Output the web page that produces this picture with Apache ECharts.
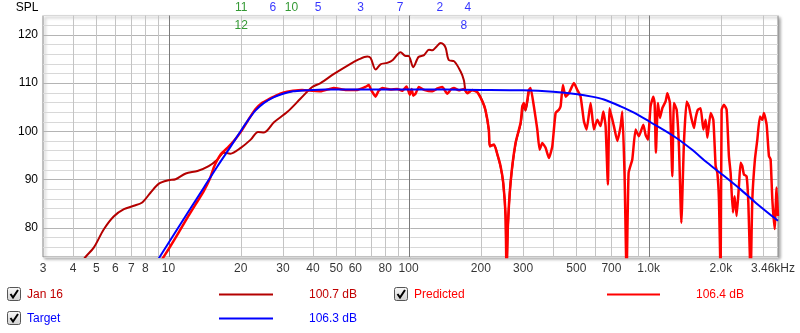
<!DOCTYPE html>
<html><head><meta charset="utf-8">
<script src="https://cdn.jsdelivr.net/npm/echarts@6/dist/echarts.min.js"></script>
<style>html,body{margin:0;padding:0;background:#fff}#c{width:800px;height:333px}</style>
</head><body><div id="c"></div>
<script>
// ---- data (frequency Hz, SPL dB) ----
const jan16 = [[4.3,72.6],[4.51,74.0],[4.89,76.0],[5.37,79.7],[5.91,82.4],[6.52,83.9],[7.17,84.6],[7.77,85.3],[8.41,87.3],[9.12,89.2],[10,89.9],[10.7,90.1],[11.8,91.3],[13.2,91.8],[14.7,92.8],[16.0,94.2],[17.0,95.6],[18.1,95.4],[20,96.6],[22,98.3],[23.6,99.9],[25,99.8],[27.5,101.9],[31.2,104.0],[35.5,106.8],[39.7,109.2],[43,110.0],[48.9,111.9],[57.3,114.0],[62,114.9],[67.3,115.5],[69.5,115.2],[72.9,112.8],[76.4,113.9],[81.5,114.2],[86,114.8],[92.6,116.4],[97.2,115.6],[100,115.6],[104.6,113.3],[110,115.4],[116,115.8],[121.6,116.9],[125.6,116.8],[131,117.6],[136,118.3],[140,118.0],[143,117.2],[147,114.8],[155,114.5],[164.8,112.4],[170,110.6],[172.7,108.4],[176,108.0],[184,108.5],[193,108.2],[203,106.3],[209,104.4],[216,100.2],[218,97.0],[227,97.2],[234.6,95.1],[241.8,92.6],[248,89.2],[253.6,82.3],[256,70],[259,79.6],[266,89.2],[279,97.4],[293,101.6],[302,105.6],[307,104.3],[317,108.4]];

const predicted = [[9.2,72.8],[10,75.6],[11,79.0],[12,82.2],[13,85.0],[14,87.6],[14.9,90.3],[15.45,92.6],[16.46,95.2],[17.6,96.6],[18.7,98.0],[20,99.9],[21.5,102.4],[23,104.6],[24.5,105.9],[26,106.6],[28,107.4],[30,108.0],[33,108.4],[36,108.6],[40,108.4],[43,108.3],[48.8,109.0],[55,108.6],[61.1,108.6],[66,109.2],[68.3,109.6],[70,108.5],[72.9,107.2],[75,108.4],[77.7,109.0],[84,108.7],[89.7,108.8],[94,108.4],[98.1,109.3],[101.3,107.6],[103,108.8],[104.6,107.4],[106.9,107.8],[110.4,109.2],[116,108.6],[125.6,108.3],[132,108.9],[138.2,109.2],[145,107.8],[150,108.7],[154.5,109.0],[162,108.5],[170,108.8],[175.6,107.9],[184.2,108.6],[193.3,108.1],[203,106.2],[209,104.5],[216,100.4],[218,96.9],[227,97.3],[234.6,95.2],[241.8,92.8],[248,89.4],[253.6,82.5],[256,70],[259,79.8],[266,89.4],[279,97.6],[293,101.8],[297.7,105.2],[302.2,105.9],[307.2,104.5],[317.1,108.6],[322.3,109.0],[332.7,105.2],[343.8,100.4],[351.4,96.2],[360.7,97.6],[372.3,96.6],[384.3,94.5],[397,96.9],[409.8,103.8],[423,104.5],[429.9,105.2],[439.5,109.6],[451.1,107.2],[465.6,107.9],[488.5,110.0],[504.6,108.6],[520.9,107.2],[537.7,102.1],[551.8,100.4],[573.3,105.9],[591.8,100.4],[611.4,102.4],[631,101.1],[647.6,104.1],[662,101.1],[676.8,89.0],[688,104.8],[716.9,101.1],[740.7,98.0],[764.5,101.1],[777.2,104.1],[794.3,90.7],[809.7,70],[825.4,91.4],[855.2,94.2],[882.6,100.4],[911.1,99.0],[950.6,101.4],[971.6,99.3],[993.4,98.3],[1019.4,105.2],[1046,107.2],[1059.3,105.9],[1072.5,95.6],[1093.4,105.9],[1114.6,102.8],[1140.5,104.8],[1177,106.2],[1196.8,107.9],[1227,105.9],[1255.6,90.7],[1274.9,105.9],[1308.6,104.5],[1337.8,96.9],[1369,81.1],[1403.5,97.6],[1440.2,106.2],[1472.4,105.2],[1506.7,102.8],[1544.9,100.7],[1570,102.8],[1605.1,104.5],[1647.4,104.8],[1690.6,100.4],[1728.4,102.4],[1756.9,98.7],[1813.2,103.8],[1860.9,102.4],[1902.5,92.8],[1933.8,91.4],[1963.5,85.9],[1995.3,70],[2014.6,104.5],[2059.6,105.5],[2113.5,104.5],[2160.7,94.9],[2196.3,91.4],[2245.4,83.2],[2282,86.6],[2326.4,82.5],[2378.4,88.7],[2417.1,93.5],[2457,92.8],[2495.1,91.1],[2560.3,90.7],[2602.5,85.3],[2660.7,70],[2704.5,85.9],[2773,94.2],[2837.6,98.3],[2909.7,103.1],[2977.4,102.4],[3023,103.8],[3102.5,101.4],[3171.8,94.9],[3223.3,94.2],[3276.7,85.9],[3349.7,79.8],[3414.5,88.4],[3458,82.5]];

const target = [[9,73.3],[10,76.9],[12,83.1],[14,88.3],[16,92.8],[18,96.6],[20,100.1],[21.5,102.4],[23,104.3],[25,105.9],[27.5,107.1],[30,107.8],[33,108.3],[37,108.5],[45,108.7],[100,108.7],[200,108.6],[300,108.5],[400,108.2],[505,107.7],[580,107.2],[651,106.6],[764,105.2],[869,103.9],[1019,101.9],[1274,99.0],[1500,96.4],[1757,93.5],[2000,91.3],[2415,88.0],[2800,85.2],[3460,81.5]];

const xTickFreqs  = [3,4,5,6,7,8,10,20,30,40,50,60,80,100,200,300,500,700,1000,2000,3460];
const xTickLabels = ['3','4','5','6','7','8','10','20','30','40','50','60','80','100','200','300','500','700','1.0k','2.0k','3.46kHz'];
const gridFreqs   = [4,5,6,7,8,9,10,20,30,40,50,60,70,80,90,100,200,300,400,500,600,700,800,900,1000,2000,3000];
const decadeFreqs = [10,100,1000];
const yMin = 74, yMax = 124, yStep = 2, yLabelStep = 10;

const filterNums   = ['11','6','10','5','3','7','2','4','12','8'];
const filterFreqs  = [20.1,27.2,32.5,42,63.1,92.2,135,176.6,20.1,170];
const filterGreen  = [true,false,true,false,false,false,false,false,true,false];
const filterRow    = [1,1,1,1,1,1,1,1,2,2];

const legendNames  = ['Jan 16','Predicted','Target'];
const legendValues = ['100.7 dB','106.4 dB','106.3 dB'];

// ---- styles ----
const FONT = 'Liberation Sans, Arial, sans-serif';
const cJan = '#b40000', cJanText = '#c00000', cPred = '#ff0000', cTarget = '#0000ff', cGreen = '#008000';

const chart = echarts.init(document.getElementById('c'), null, {renderer:'canvas'});

const splitColors = [];
for (let v = yMin; v < yMin + yLabelStep; v += yStep) splitColors.push(v % yLabelStep === 0 ? '#b4b4b4' : '#d8d8d8');

// legend graphics
const legendLayout = [
  {box:[7.5,287.5], text:[27,294.5], line:[219,273,294.5], val:[357,294.5], col:cJan, tcol:cJanText},
  {box:[394.5,287.5], text:[414,294.5], line:[607,660,294.5], val:[744,294.5], col:cPred, tcol:cPred},
  {box:[7.5,311.5], text:[27,318.5], line:[219,273,318.5], val:[357,318.5], col:cTarget, tcol:cTarget}
];
const graphics = [{type:'text', x:38.5, y:8, style:{text:'SPL', font:'12px '+FONT, fill:'#000', align:'right', verticalAlign:'middle'}}];
legendLayout.forEach((L,i)=>{
  graphics.push({type:'rect', shape:{x:L.box[0], y:L.box[1], width:13, height:13, r:2},
    style:{fill:new echarts.graphic.LinearGradient(0,0,0,1,[{offset:0,color:'#fafafa'},{offset:1,color:'#d0d0d0'}]), stroke:'#555', lineWidth:1}});
  graphics.push({type:'polyline', shape:{points:[[L.box[0]+3,L.box[1]+6.5],[L.box[0]+5.5,L.box[1]+10],[L.box[0]+10.5,L.box[1]+2.5]]},
    style:{stroke:'#000', lineWidth:2, fill:null}});
  graphics.push({type:'text', x:L.text[0], y:L.text[1], style:{text:legendNames[i], font:'12px '+FONT, fill:L.tcol, verticalAlign:'middle'}});
  graphics.push({type:'line', shape:{x1:L.line[0], y1:L.line[2], x2:L.line[1], y2:L.line[2]}, style:{stroke:L.col, lineWidth:2}});
  graphics.push({type:'text', x:L.val[0], y:L.val[1], style:{text:legendValues[i], font:'12px '+FONT, fill:L.tcol, align:'right', verticalAlign:'middle'}});
});

const option = {
  animation: false,
  textStyle: {fontFamily: FONT},
  grid: {left:43, right:22, top:15.5, bottom:76, show:true, backgroundColor:'#fff',
         borderColor:'#8a8a8a', borderWidth:1, shadowColor:'rgba(0,0,0,0.35)', shadowBlur:3, shadowOffsetX:2, shadowOffsetY:2},
  xAxis: {type:'log', logBase:10, min:3, max:3460, axisLabel:{show:false}, axisTick:{show:false}, axisLine:{show:false}, splitLine:{show:false}, minorTick:{show:false}},
  yAxis: {type:'value', min:yMin, max:yMax, interval:yStep,
    axisLabel:{fontSize:12, color:'#000', margin:5, fontFamily:FONT, formatter:v => (v % yLabelStep === 0 && v > yMin) ? String(v) : ''},
    axisTick:{show:false}, axisLine:{show:false},
    splitLine:{show:true, lineStyle:{color:splitColors, width:1}}},
  graphic: graphics,
  series: [
    {type:'custom', z:1, silent:true, clip:false,
     data: gridFreqs.map(f => [f, yMin, decadeFreqs.includes(f) ? 1 : 0]),
     encode:{x:0, y:1},
     renderItem(params, api){
       const f = api.value(0);
       const p0 = api.coord([f, yMin]), p1 = api.coord([f, yMax]);
       const x = Math.round(p0[0]) + 0.5;
       return {type:'line', shape:{x1:x, y1:p0[1], x2:x, y2:p1[1]},
               style:{stroke: api.value(2) ? '#7a7a7a' : '#c4c4c4', lineWidth:1}};
     }},
    {type:'scatter', silent:true, clip:false, z:6, symbol:'circle', symbolSize:1,
     itemStyle:{color:'rgba(0,0,0,0)'},
     data: xTickFreqs.map((f,i)=>({value:[f, yMin],
       label:{show:true, formatter:xTickLabels[i], position:'inside', offset:[i === xTickFreqs.length-1 ? -5 : 0, 11.5],
              color:'#000', fontSize:12, fontFamily:FONT}}))},
    {type:'scatter', silent:true, clip:false, z:6, symbol:'circle', symbolSize:1,
     itemStyle:{color:'rgba(0,0,0,0)'},
     data: filterFreqs.map((f,i)=>({value:[f, yMax],
       label:{show:true, formatter:filterNums[i], position:'inside', offset:[0, filterRow[i] === 1 ? -7.5 : 10.5],
              color: filterGreen[i] ? cGreen : cTarget, fontSize:12, fontFamily:FONT}}))},
    {name:'Jan 16', type:'line', z:3, data:jan16, showSymbol:false, smooth:0.3, silent:true,
     lineStyle:{color:cJan, width:2, join:'round'}, itemStyle:{color:cJan}},
    {name:'Predicted', type:'line', z:4, data:predicted, showSymbol:false, smooth:0.15, silent:true,
     lineStyle:{color:cPred, width:2.5, join:'round'}, itemStyle:{color:cPred}},
    {name:'Target', type:'line', z:5, data:target, showSymbol:false, smooth:0.3, silent:true,
     lineStyle:{color:cTarget, width:2, join:'round'}, itemStyle:{color:cTarget}}
  ]
};
chart.setOption(option);
</script>
</body></html>
